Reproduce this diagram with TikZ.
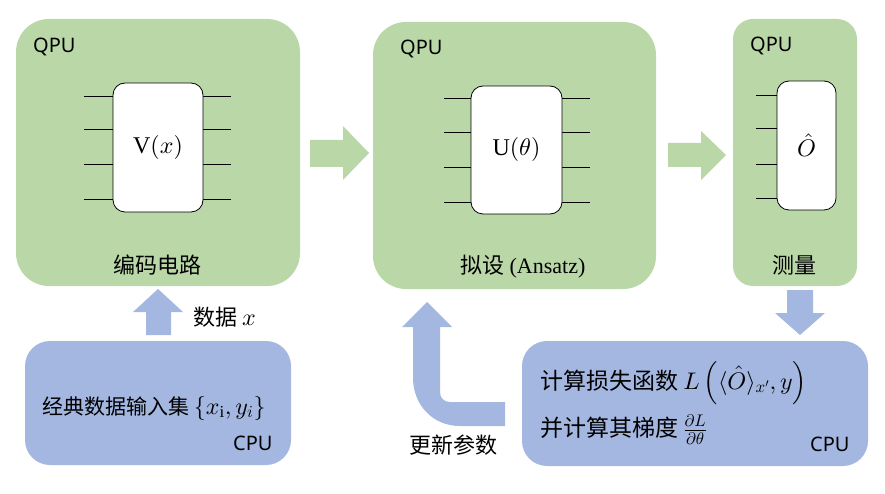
\documentclass[tikz,border=0pt]{standalone}
\usepackage{fontspec}
\setmainfont{Liberation Serif}
\newfontfamily\cjk{Noto Sans CJK SC}
\newfontfamily\lab{Noto Sans}
\DeclareFontShape{OML}{cmm}{m}{it}{<->cmmi10}{}
\DeclareFontShape{OMS}{cmsy}{m}{n}{<->cmsy10}{}
\DeclareFontShape{OMX}{cmex}{m}{n}{<->cmex10}{}
\DeclareFontShape{OT1}{cmr}{m}{n}{<->cmr10}{}
\newcommand\mth[1]{{\fontsize{24}{26}\selectfont$#1$}}
\usetikzlibrary{calc}
\definecolor{qgreen}{RGB}{186,215,168}
\definecolor{cblue}{RGB}{164,183,225}
\tikzset{
  qpubox/.style={fill=qgreen, draw=none, inner sep=0pt},
  cpubox/.style={fill=cblue, draw=none, inner sep=0pt, rounded corners=25pt},
  gate/.style={fill=white, draw=black, line width=0.8pt, rounded corners=12pt, inner sep=0pt, font=\fontsize{24}{26}\selectfont},
  wire/.style={draw=black, line width=0.8pt},
  unitlab/.style={font=\lab\fontsize{20}{22}\selectfont, inner sep=0pt, anchor=west},
  cjklab/.style={font=\cjk\fontsize{22}{24}\selectfont, inner sep=0pt},
  garrow/.style={fill=qgreen, draw=none},
  barrow/.style={fill=cblue, draw=none},
}
\begin{document}
\begin{tikzpicture}[x=1pt,y=-1pt]
\useasboundingbox (0,0) rectangle (885,494);
% QPU boxes
\node[qpubox, rounded corners=33pt, minimum width=284pt, minimum height=267pt] (b1) at (158,152.5) {};
\node[qpubox, rounded corners=33pt, minimum width=283pt, minimum height=267pt] (b2) at (514.5,155.5) {};
\node[qpubox, rounded corners=20pt, minimum width=124pt, minimum height=267pt] (b3) at (795,152.5) {};
% CPU boxes
\node[cpubox, minimum width=266pt, minimum height=124pt] (c1) at (158,403) {};
\node[cpubox, minimum width=346pt, minimum height=125pt] (c2) at (695,403.5) {};
% QPU labels
\node[unitlab] (q1) at (33,47) {QPU};
\node[unitlab] (q2) at (400,49) {QPU};
\node[unitlab] (q3) at (750,46) {QPU};
% gates and wires
\foreach \y in {96,129,164,199}{
  \draw[wire] (113,\y) -- (84,\y);
  \draw[wire] (203,\y) -- (231,\y);
}
\foreach \y in {98,132,167,202}{
  \draw[wire] (471,\y) -- (444,\y);
  \draw[wire] (562,\y) -- (590,\y);
}
\foreach \y in {95,128,164,198}{
  \draw[wire] (777,\y) -- (756,\y);
}
\node[gate, minimum width=90pt, minimum height=129pt] (g1) at (158,147.5) {$\mathrm{V}(x)$};
\node[gate, minimum width=91pt, minimum height=128pt] (g2) at (516.5,150) {$\mathrm{U}(\theta)$};
\node[gate, minimum width=59pt, minimum height=129pt] (g3) at (806.5,145.5) {$\hat{O}$};
% box captions
\node[cjklab] (t1) at (157,265) {编码电路};
\node[cjklab] (t2) at (523,267) {拟设 {\rmfamily(Ansatz)}};
\node[cjklab] (t3) at (794,265) {测量};
% green arrows
\path[garrow] (310,140) -- (343,140) -- (343,126) -- (369,153) -- (343,180) -- (343,167) -- (310,167) -- cycle;
\path[garrow] (668,143) -- (701,143) -- (701,131) -- (726,155) -- (701,180) -- (701,167) -- (668,167) -- cycle;
% blue arrows
\path[barrow] (787,290) -- (813,290) -- (813,313) -- (825,313) -- (800,335) -- (775,313) -- (787,313) -- cycle;
\path[barrow] (146,335) -- (146,312) -- (133,312) -- (158,289) -- (183,312) -- (171,312) -- (171,335) -- cycle;
\path[barrow] (413,327) -- (413,378) .. controls (413,404) and (432,426) .. (460,426) -- (505,426) -- (505,402) -- (450,402) .. controls (444,402) and (440,398) .. (440,392) -- (440,327) -- (452,327) -- (427,302) -- (402,327) -- cycle;
% CPU texts
\node[cjklab, anchor=west] (d1) at (193,317) {数据 \mth{x}};
\node[cjklab, anchor=west, font=\cjk\fontsize{21}{24}\selectfont] (e1) at (42,408) {经典数据输入集 \mth{\{x_{\mathrm{i}},y_i\}}};
\node[unitlab] (cpu1) at (233,443) {CPU};
\node[cjklab, anchor=west, font=\cjk\fontsize{23}{24}\selectfont] (e2) at (540,383) {计算损失函数 \mth{L\left(\rule[-11pt]{0pt}{33pt}\langle\hat{O}\rangle_{x'},y\right)}};
\node[cjklab, anchor=west, font=\cjk\fontsize{23}{24}\selectfont] (e3) at (540,430) {并计算其梯度 \mth{\frac{\partial L}{\partial\theta}}};
\node[unitlab] (cpu2) at (810,444) {CPU};
\node[cjklab] (u1) at (453,445) {更新参数};
\end{tikzpicture}
\end{document}
